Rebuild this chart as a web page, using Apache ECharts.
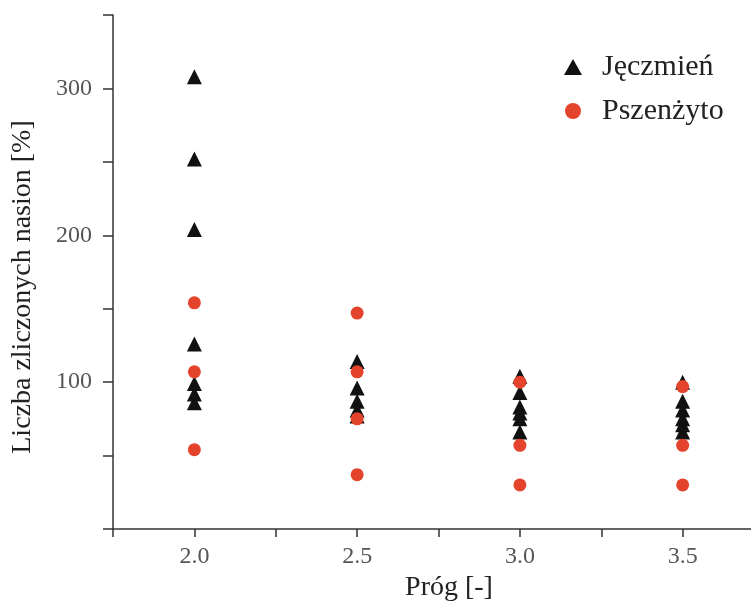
<!DOCTYPE html>
<html>
<head>
<meta charset="utf-8">
<script src="https://cdn.jsdelivr.net/npm/echarts@6/dist/echarts.min.js"></script>
<style>
html, body { margin: 0; padding: 0; background: #fff; }
#chart { width: 751px; height: 603px; }
</style>
</head>
<body>
<div id="chart"></div>
<script>
// progi (oś X)
var thresholds = [2.0, 2.5, 3.0, 3.5];
// Jęczmień - wartości dla kolejnych progów
var jeczmien = [
	[308, 252, 204, 126, 99, 92, 86],
	[114, 96, 87, 81, 77],
	[104, 93, 83, 79, 75, 66],
	[100, 87, 81, 75, 71, 66]
];
// Pszenżyto
var pszenzyto = [
	[154, 107, 54],
	[147, 107, 75, 37],
	[100, 57, 30],
	[97, 57, 30]
];
var xTickLabels = [2.0, 2.5, 3.0, 3.5];
var xTicks = [1.75, 2.0, 2.25, 2.5, 2.75, 3.0, 3.25, 3.5];
var yTickLabels = [100, 200, 300];
var yTicks = [0, 50, 100, 150, 200, 250, 300, 350];

function toPoints(groups) {
	var pts = [];
	for (var i = 0; i < groups.length; i++) {
		for (var j = 0; j < groups[i].length; j++) {
			pts.push([thresholds[i], groups[i][j]]);
		}
	}
	return pts;
}

var font = 'Liberation Serif';
var chart = echarts.init(document.getElementById('chart'));

chart.setOption({
	animation: false,
	grid: { left: 113, right: 0, top: 15, bottom: 74, outerBoundsMode: 'none' },
	legend: {
		orient: 'vertical',
		left: 559,
		top: 47,
		itemWidth: 18,
		itemHeight: 16,
		itemGap: 14,
		textStyle: { fontFamily: font, fontSize: 30, color: '#222', padding: [0, 0, 0, 15] },
		data: [
			{ name: 'Jęczmień', icon: 'triangle' },
			{ name: 'Pszenżyto', icon: 'circle' }
		]
	},
	xAxis: {
		type: 'value',
		min: 1.75,
		max: 3.71,
		name: 'Próg [-]',
		nameLocation: 'middle',
		nameGap: 39,
		nameTextStyle: { fontFamily: font, fontSize: 28, color: '#222', padding: [0, 0, 0, 34] },
		axisLine: { onZero: false, lineStyle: { color: '#333', width: 1.5 } },
		axisTick: { customValues: xTicks, length: 8, lineStyle: { color: '#333', width: 1.5 } },
		axisLabel: {
			customValues: xTickLabels,
			margin: 16,
			fontFamily: font,
			fontSize: 24,
			color: '#555',
			formatter: function (v) { return v.toFixed(1); }
		},
		splitLine: { show: false }
	},
	yAxis: {
		type: 'value',
		min: 0,
		max: 350,
		name: 'Liczba zliczonych nasion [%]',
		nameLocation: 'middle',
		nameGap: 76,
		nameTextStyle: { fontFamily: font, fontSize: 28, color: '#222', padding: [0, 30, 0, 0] },
		axisLine: { lineStyle: { color: '#333', width: 1.5 } },
		axisTick: { customValues: yTicks, length: 10, lineStyle: { color: '#333', width: 1.5 } },
		axisLabel: {
			customValues: yTickLabels,
			margin: 21,
			fontFamily: font,
			fontSize: 24,
			color: '#555'
		},
		splitLine: { show: false }
	},
	series: [
		{
			name: 'Jęczmień',
			type: 'scatter',
			symbol: 'triangle',
			symbolSize: 15,
			itemStyle: { color: '#111', opacity: 1 },
			data: toPoints(jeczmien)
		},
		{
			name: 'Pszenżyto',
			type: 'scatter',
			symbol: 'circle',
			symbolSize: 13,
			itemStyle: { color: '#e4432c', opacity: 1 },
			data: toPoints(pszenzyto)
		}
	]
});
</script>
</body>
</html>
